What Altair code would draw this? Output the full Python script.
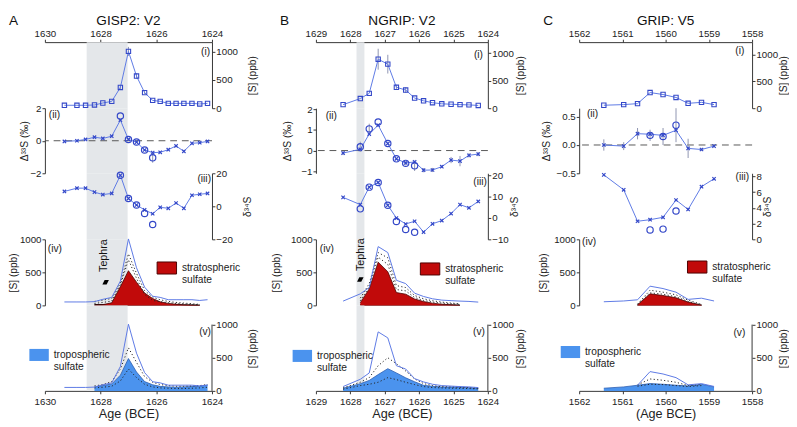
import altair as alt
import pandas as pd
import numpy as np

FONT = "Liberation Sans"
LINE = "#5b78e4"
MARK = "#3347c8"
ERR = "#8c93b0"
BAND = "#e4e7ea"
RED = "#c10a0a"
REDLINE = "#4a0000"
BLUE = "#4b93ee"
TXT = "#222222"

# ---------------- Column A: GISP2 V2 ----------------
years_A = [1629.30, 1628.85, 1628.54, 1628.22, 1627.92, 1627.60, 1627.29, 1627.00, 1626.71,
           1626.42, 1626.13, 1625.86, 1625.57, 1625.29, 1625.01, 1624.72, 1624.44, 1624.16]
total_A = [52, 52, 52, 57, 92, 121, 368, 1006, 569, 276, 138, 121, 86, 86, 86, 86, 75, 86]
total_err_A = [0, 0, 0, 0, 0, 0, 40, 80, 45, 25, 0, 0, 0, 0, 0, 0, 0, 0]
d33_A = [-0.04, 0.0, 0.08, 0.22, 0.14, 0.28, 1.27, 0.08, -0.08, -0.57, -0.73, -0.71, -0.55,
         -0.32, -0.65, -0.16, -0.12, -0.04]
d33_err_A = [0, 0, 0, 0, 0, 0, 0, 0, 0, 0, 0.3, 0, 0, 0, 0, 0, 0, 0]
d33c_A = [None] * 6 + [1.52, 0.08, -0.08, -0.57, -1.05] + [None] * 7
d34_A = [9.0, 11.0, 11.0, 8.6, 7.1, 7.8, 18.8, 4.7, 0.8, -2.2, -4.5, -0.6, -1.2, 2.0, -1.2,
         6.7, 7.3, 7.8]
d34_err_A = [0] * 18
d34c_A = [None] * 6 + [18.8, 4.7, 0.8, -4.3, -11.0] + [None] * 7
strat_A = [None] * 3 + [5, 10, 40, 282, 525, 352, 188, 104, 54, 30, 18, 10, 6, 3] + [None]
base_A = [None] * 3 + [20, 22, 25, 25, 25, 25, 25, 22, 20, 18, 16, 14, 12, 10] + [None]
strat_hi_A = [None] * 3 + [60, 80, 105, 340, 780, 485, 225, 125, 85, 60, 45, 35, 25, 15] + [None]
strat_lo_A = [None] * 3 + [30, 45, 65, 310, 690, 410, 165, 75, 55, 40, 30, 22, 15, 8] + [None]
trop_A = [None] * 3 + [60, 80, 105, 237, 488, 285, 140, 92, 68, 60, 55, 60, 65, 70, 90]
trop_hi_A = [None] * 3 + [75, 95, 140, 330, 650, 430, 215, 130, 95, 80, 70, 70, 75, 80, 95]
trop_lo_A = [None] * 3 + [45, 55, 70, 150, 330, 200, 100, 60, 45, 40, 35, 35, 40, 45, 55]

# ---------------- Column B: NGRIP V2 ----------------
years_B = [1628.21, 1627.71, 1627.45, 1627.19, 1626.91, 1626.66, 1626.39, 1626.13, 1625.87,
           1625.61, 1625.34, 1625.07, 1624.81, 1624.55, 1624.28]
total_B = [65, 175, 270, 890, 800, 380, 330, 185, 135, 100, 80, 72, 65, 60, 50]
total_err_B = [0, 0, 0, 190, 170, 45, 50, 0, 0, 0, 0, 0, 0, 0, 0]
d33_B = [-0.12, 0.06, 0.8, 1.23, 0.34, -0.4, -0.6, -0.55, -0.95, -0.94, -0.78, -0.46, -0.51,
         -0.23, -0.17]
d33_err_B = [0.1, 0.25, 0.25, 0, 0, 0, 0.1, 0.25, 0.1, 0.1, 0.05, 0.15, 0.25, 0.1, 0.1]
d33c_B = [None, 0.18, 1.05, 1.38, 0.34, -0.4, -0.62, -0.74] + [None] * 7
d34_B = [9.7, 6.3, 14.5, 16.7, 6.0, 0.0, -2.8, -1.5, -6.6, -2.7, -1.2, 2.1, 6.3, 4.8, 7.8]
d34_err_B = [0] * 15
d34c_B = [None, 4.3, 14.5, 16.7, 6.0, -1.6, -5.4, -6.7] + [None] * 7
strat_B = [None, 40, 250, 655, 510, 194, 170, 97, 58, 34, 18, 10, 4, None, None]
base_B = [None, 20, 20, 20, 20, 20, 20, 20, 18, 16, 14, 12, 10, None, None]
strat_hi_B = [None, 110, 330, 800, 720, 300, 270, 150, 100, 70, 50, 35, 25, None, None]
strat_lo_B = [None, 70, 280, 730, 620, 240, 220, 120, 75, 50, 35, 25, 15, None, None]
trop_B = [39, 108, 158, 246, 335, 271, 197, 138, 84, 69, 59, 59, 54, 49, 39]
trop_hi_B = [45, 130, 200, 380, 500, 410, 300, 180, 110, 80, 65, 60, 55, 50, 40]
trop_lo_B = [25, 80, 100, 130, 200, 170, 130, 95, 65, 50, 45, 40, 38, 35, 30]

# ---------------- Column C: GRIP V5 ----------------
years_C = [1561.43, 1560.97, 1560.65, 1560.36, 1560.06, 1559.76, 1559.48, 1559.17, 1558.88]
total_C = [55, 67, 85, 291, 255, 200, 91, 109, 67]
total_err_C = [0] * 9
d33_C = [0.0, -0.02, 0.2, 0.19, 0.17, 0.26, -0.06, -0.08, -0.02]
d33_err_C = [0.1, 0.07, 0.1, 0.1, 0.15, 0.3, 0.17, 0.02, 0.02]
d33c_C = [None, None, None, 0.17, 0.15, 0.35, None, None, None]
d34_C = [8.2, 6.3, 2.3, 2.5, 2.8, 5.0, 3.8, 6.7, 7.7]
d34_err_C = [0] * 9
d34c_C = [None, None, None, 1.2, 1.3, 3.6, None, None, None]
strat_C = [None, None, 10, 175, 150, 115, 50, 5, None]
base_C = [None, None, 8, 8, 8, 8, 8, 8, None]
strat_hi_C = [None, None, 20, 230, 200, 160, 80, 15, None]
strat_lo_C = [None, None, 10, 190, 170, 130, 60, 8, None]
trop_C = [40, 60, 85, 110, 100, 85, 75, 100, 60]
trop_hi_C = [None, None, 90, 180, 160, 130, 80, 95, None]
trop_lo_C = [None, None, 70, 100, 95, 80, 65, 80, None]

COLS = [
    dict(letter="A", title="GISP2: V2", years=years_A, total=total_A, total_err=total_err_A,
         d33=d33_A, d33_err=d33_err_A, d33c=d33c_A, d34=d34_A, d34_err=d34_err_A, d34c=d34c_A,
         strat=strat_A, base=base_A, strat_hi=strat_hi_A, strat_lo=strat_lo_A,
         trop=trop_A, trop_hi=trop_hi_A, trop_lo=trop_lo_A, trop_total_from=0,
         xdom=[1630, 1624], xticks=[1630, 1628, 1626, 1624], width=172,
         band=(1628.5, 1627.03), xtitle="Age (BCE)", tpl=1, tpr=11,
         dom_i=[0, 1170], dom_ii=[-2, 2], t_ii=[-2, 0, 2], dom_iii=[-20, 20], t_iii=[-20, 0, 20],
         lab=[(-2, 10, "right"), (4, 7, "left"), (-1, 6, "right"), (3, 10, "left"), (-1, 27, "right")],
         leg_iv=(115, 19), leg_v=(-16, 41),
         teph_text=(1627.87, 754), teph_mark=(1627.82, 350)),
    dict(letter="B", title="NGRIP: V2", years=years_B, total=total_B, total_err=total_err_B,
         d33=d33_B, d33_err=d33_err_B, d33c=d33c_B, d34=d34_B, d34_err=d34_err_B, d34c=d34c_B,
         strat=strat_B, base=base_B, strat_hi=strat_hi_B, strat_lo=strat_lo_B,
         trop=trop_B, trop_hi=trop_hi_B, trop_lo=trop_lo_B, trop_total_from=0,
         xdom=[1629, 1624], xticks=[1629, 1628, 1627, 1626, 1625, 1624], width=177,
         band=(1627.82, 1627.59), xtitle="Age (BCE)", tpl=9, tpr=2,
         dom_i=[0, 1200], dom_ii=[-1.1, 2.05], t_ii=[-1, 0, 1, 2], dom_iii=[-10, 21],
         t_iii=[-10, 0, 10, 20],
         lab=[(-5, 13, "right"), (10, 8, "left"), (-1, 9, "right"), (4, 10, "left"), (-3, 27, "right")],
         leg_iv=(107, 20), leg_v=(-24, 42),
         teph_text=(1627.69, 768), teph_mark=(1627.71, 391)),
    dict(letter="C", title="GRIP: V5", years=years_C, total=total_C, total_err=total_err_C,
         d33=d33_C, d33_err=d33_err_C, d33c=d33c_C, d34=d34_C, d34_err=d34_err_C, d34c=d34c_C,
         strat=strat_C, base=base_C, strat_hi=strat_hi_C, strat_lo=strat_lo_C,
         trop=trop_C, trop_hi=trop_hi_C, trop_lo=trop_lo_C, trop_total_from=2,
         xdom=[1562, 1558], xticks=[1562, 1561, 1560, 1559, 1558], width=178,
         band=None, xtitle="(Age BCE)", tpl=5, tpr=1,
         dom_i=[0, 1230], dom_ii=[-0.5, 0.65], t_ii=[-0.5, 0, 0.5], dom_iii=[0, 8.4],
         t_iii=[0, 2, 4, 6, 8],
         lab=[(-8, 9, "right"), (8, 6, "left"), (-3, 4, "right"), (3, 3, "left"), (-7, 28, "right")],
         leg_iv=(111, 18), leg_v=(-19, 38),
         teph_text=None, teph_mark=None),
]

H = [68, 67, 68, 68, 88]
ROMAN = ["(i)", "(ii)", "(iii)", "(iv)", "(v)"]
RECT_PATH = "M-1,-0.62L1,-0.62L1,0.62L-1,0.62Z"
X_PATH = "M-1,-1L1,1M-1,1L1,-1"
PARA = "M-1,0.7L-0.3,-0.7L1,-0.7L0.3,0.7Z"


def xdef(c, field, axis):
    return alt.X(field, scale=alt.Scale(domain=c["xdom"], nice=False, zero=False), axis=axis)


def yaxis(c, orient, values, title, domain=True, fmt=None):
    kw = dict(orient=orient, values=values, title=title, grid=False, tickSize=3,
              labelPadding=1, domain=domain, titleAngle=270,
              titlePadding=c["tpr"] if orient == "right" else c["tpl"])
    if fmt:
        kw["format"] = fmt
    kw["titleBaseline"] = "top" if orient == "right" else "bottom"
    return alt.Axis(**kw)


def ydef(c, field, dom, axis):
    return alt.Y(field, scale=alt.Scale(domain=dom, nice=False, zero=False), axis=axis)


def label_layer(c, k):
    dx, dy, align = c["lab"][k]
    xpos = c["width"] + dx if align == "right" else dx
    return alt.Chart(pd.DataFrame({"t": [ROMAN[k]]})).mark_text(
        align=align, baseline="middle", fontSize=10.5, font=FONT, color=TXT
    ).encode(text="t:N", x=alt.value(xpos), y=alt.value(dy))


def band_layer(c, xaxis):
    b = pd.DataFrame({"x0": [c["band"][0]], "x1": [c["band"][1]]})
    return alt.Chart(b).mark_rect(color=BAND).encode(x=xdef(c, "x0:Q", xaxis), x2="x1:Q")


def series_df(c, key):
    df = pd.DataFrame({"year": c["years"], "v": c[key]})
    return df.dropna()


def panel_points(c, k, xaxis, dom, yax, line_key, err_key, circ_key, marker):
    layers = []
    if c["band"] is not None:
        layers.append(band_layer(c, xaxis))
    if k == 1:
        z = pd.DataFrame({"z": [0.0]})
        layers.append(alt.Chart(z).mark_rule(color="#555555", strokeDash=[7, 5], strokeWidth=1).encode(
            y=ydef(c, "z:Q", dom, yax)))
    df = pd.DataFrame({"year": c["years"], "v": c[line_key], "e": c[err_key]})
    if circ_key is not None:
        df["c"] = c[circ_key]
        df["base"] = df["c"].where(df["c"].notna(), df["v"])
    else:
        df["base"] = df["v"]
    df["lo"] = df["base"] - df["e"]
    df["hi"] = df["base"] + df["e"]
    de = df[df["e"] > 0]
    if len(de):
        layers.append(alt.Chart(de).mark_rule(color=ERR, strokeWidth=1).encode(
            x=xdef(c, "year:Q", xaxis), y=ydef(c, "lo:Q", dom, yax), y2="hi:Q"))
    layers.append(alt.Chart(df).mark_line(color=LINE, strokeWidth=1).encode(
        x=xdef(c, "year:Q", xaxis), y=ydef(c, "v:Q", dom, yax)))
    if marker == "square":
        layers.append(alt.Chart(df).mark_point(shape="square", size=20, filled=False, color=MARK,
                                               strokeWidth=1.1, opacity=1).encode(
            x=xdef(c, "year:Q", xaxis), y=ydef(c, "v:Q", dom, yax)))
    else:
        layers.append(alt.Chart(df).mark_point(shape=X_PATH, size=12, filled=False, color=MARK,
                                               strokeWidth=1.2, opacity=1).encode(
            x=xdef(c, "year:Q", xaxis), y=ydef(c, "v:Q", dom, yax)))
    if circ_key is not None:
        dc = df.dropna(subset=["c"])
        layers.append(alt.Chart(dc).mark_point(shape="circle", size=42, filled=False, color=MARK,
                                               strokeWidth=1.2, opacity=1).encode(
            x=xdef(c, "year:Q", xaxis), y=ydef(c, "c:Q", dom, yax)))
    layers.append(label_layer(c, k))
    return layers


def legend(pos, labels, stroke):
    return alt.Legend(orient="none", legendX=pos[0], legendY=pos[1], title=None,
                      symbolType=RECT_PATH, symbolSize=400, symbolStrokeColor=stroke,
                      symbolStrokeWidth=1 if stroke else 0, symbolOpacity=1,
                      labelExpr=labels, labelFont=FONT, labelFontSize=10.5, labelColor=TXT,
                      labelOffset=5, padding=0)


def build_column(c):
    W = c["width"]
    xnone = None
    panels = []

    # (i) total sulfur
    ax_top = alt.Axis(orient="top", values=c["xticks"], format="d", title=None, tickSize=3,
                      labelPadding=1, grid=False, labelFlush=False)
    ya = yaxis(c, "right", [0, 500, 1000], "[S] (ppb)", fmt="d")
    lay = panel_points(c, 0, ax_top, c["dom_i"], ya, "total", "total_err", None, "square")
    lay.append(alt.Chart(pd.DataFrame({"t": [c["letter"]]})).mark_text(
        align="left", baseline="middle", fontSize=14, font=FONT, color="#111").encode(
        text="t:N", x=alt.value(-37), y=alt.value(-22)))
    p1 = alt.layer(*lay).properties(
        width=W, height=H[0],
        title=alt.TitleParams(c["title"], fontSize=14, fontWeight="normal", font=FONT,
                              color="#111", anchor="middle", offset=-14))
    panels.append(p1)

    # (ii) D33S
    ya = yaxis(c, "left", c["t_ii"], "Δ³³S (‰)")
    lay = panel_points(c, 1, xnone, c["dom_ii"], ya, "d33", "d33_err", "d33c", "x")
    panels.append(alt.layer(*lay).properties(width=W, height=H[1]))

    # (iii) d34S
    ya = yaxis(c, "right", c["t_iii"], "δ³⁴S")
    lay = panel_points(c, 2, xnone, c["dom_iii"], ya, "d34", "d34_err", "d34c", "x")
    panels.append(alt.layer(*lay).properties(width=W, height=H[2]))

    # (iv) stratospheric
    dom = [0, 1000]
    ya = yaxis(c, "left", [0, 500, 1000], "[S] (ppb)", fmt="d")
    lay = []
    if c["band"] is not None:
        lay.append(band_layer(c, xnone))
    base = series_df(c, "base")
    lay.append(alt.Chart(base).mark_area(color="#111111", opacity=1).encode(
        x=xdef(c, "year:Q", xnone), y=ydef(c, "v:Q", dom, ya)))
    st = series_df(c, "strat")
    st["kind"] = "strat"
    lay.append(alt.Chart(st).mark_area(opacity=1).encode(
        x=xdef(c, "year:Q", xnone), y=ydef(c, "v:Q", dom, ya),
        color=alt.Color("kind:N", scale=alt.Scale(domain=["strat"], range=[RED]),
                        legend=legend(c["leg_iv"], "['stratospheric', 'sulfate']", REDLINE))))
    lay.append(alt.Chart(st).mark_line(color=REDLINE, strokeWidth=0.8).encode(
        x=xdef(c, "year:Q", xnone), y=ydef(c, "v:Q", dom, ya)))
    for key in ["strat_hi", "strat_lo"]:
        lay.append(alt.Chart(series_df(c, key)).mark_line(color="#222222", strokeWidth=1,
                                                          strokeDash=[1.2, 2.4]).encode(
            x=xdef(c, "year:Q", xnone), y=ydef(c, "v:Q", dom, ya)))
    lay.append(alt.Chart(series_df(c, "total")).mark_line(color=LINE, strokeWidth=1).encode(
        x=xdef(c, "year:Q", xnone), y=ydef(c, "v:Q", dom, ya)))
    if c["teph_text"] is not None:
        tt = pd.DataFrame({"year": [c["teph_text"][0]], "v": [c["teph_text"][1]], "t": ["Tephra"]})
        lay.append(alt.Chart(tt).mark_text(angle=270, fontSize=11, font=FONT, color="#111",
                                           align="center", baseline="middle").encode(
            x=xdef(c, "year:Q", xnone), y=ydef(c, "v:Q", dom, ya), text="t:N"))
        tm = pd.DataFrame({"year": [c["teph_mark"][0]], "v": [c["teph_mark"][1]]})
        lay.append(alt.Chart(tm).mark_point(shape=PARA, filled=True, color="#000000", size=45,
                                            opacity=1).encode(
            x=xdef(c, "year:Q", xnone), y=ydef(c, "v:Q", dom, ya)))
    lay.append(label_layer(c, 3))
    panels.append(alt.layer(*lay).properties(width=W, height=H[3]))

    # (v) tropospheric
    dom = [0, 1290]
    ax_bot = alt.Axis(orient="bottom", values=c["xticks"], format="d", title=c["xtitle"],
                      titleFontSize=13, titleFontWeight="normal", titlePadding=1, tickSize=3,
                      labelPadding=3, grid=False, labelFlush=False)
    ya = yaxis(c, "right", [0, 500, 1000], "[S] (ppb)", domain=False, fmt="d")
    lay = []
    if c["band"] is not None:
        lay.append(band_layer(c, ax_bot))
    tr = series_df(c, "trop")
    tr["kind"] = "trop"
    lay.append(alt.Chart(tr).mark_area(opacity=1).encode(
        x=xdef(c, "year:Q", ax_bot), y=ydef(c, "v:Q", dom, ya),
        color=alt.Color("kind:N", scale=alt.Scale(domain=["trop"], range=[BLUE]),
                        legend=legend(c["leg_v"], "['tropospheric', 'sulfate']", None))))
    lay.append(alt.Chart(tr).mark_line(color="#2a5cb0", strokeWidth=0.8).encode(
        x=xdef(c, "year:Q", ax_bot), y=ydef(c, "v:Q", dom, ya)))
    for key in ["trop_hi", "trop_lo"]:
        lay.append(alt.Chart(series_df(c, key)).mark_line(color="#222222", strokeWidth=1,
                                                          strokeDash=[1.2, 2.4]).encode(
            x=xdef(c, "year:Q", ax_bot), y=ydef(c, "v:Q", dom, ya)))
    tot = series_df(c, "total").iloc[c["trop_total_from"]:]
    lay.append(alt.Chart(tot).mark_line(color=LINE, strokeWidth=1).encode(
        x=xdef(c, "year:Q", ax_bot), y=ydef(c, "v:Q", dom, ya)))
    ax_line = pd.DataFrame({"lo": [0], "hi": [1000]})
    lay.append(alt.Chart(ax_line).mark_rule(color="#333333", strokeWidth=1).encode(
        x=alt.value(W), y=ydef(c, "lo:Q", dom, ya), y2="hi:Q"))
    lay.append(label_layer(c, 4))
    panels.append(alt.layer(*lay).properties(width=W, height=H[4]))

    return alt.vconcat(*panels, spacing=0, bounds="flush").resolve_scale(
        color="independent").resolve_legend(color="independent")


cols = [build_column(c) for c in COLS]
chart = alt.hconcat(*cols, spacing=13).resolve_scale(color="independent").resolve_legend(
    color="independent").properties(padding={"left": 0, "top": 0, "right": 0, "bottom": 0})
chart = chart.configure_view(stroke=None).configure_axis(
    labelFont=FONT, titleFont=FONT, labelFontSize=10, titleFontSize=10.5,
    titleFontWeight="normal", labelColor=TXT, titleColor=TXT, domainColor="#333333",
    tickColor="#333333").configure_text(font=FONT)

chart.save("out.html", embed_options={"renderer": "svg", "actions": False})
